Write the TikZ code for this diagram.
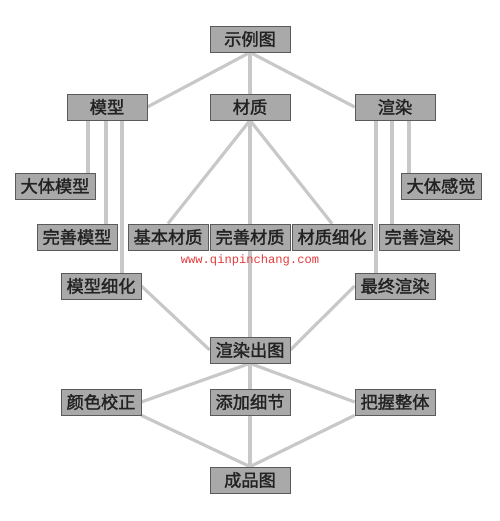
\documentclass[tikz,border=0pt]{standalone}
\usepackage{fontspec}
\usepackage{xcolor}
\usepackage{tikz}
\usetikzlibrary{shadows,backgrounds}
\newfontfamily\cjk{Noto Sans CJK SC}[BoldFont=*,BoldFeatures={FakeBold=1.6}]
\newfontfamily\webfont{Liberation Mono}
\definecolor{boxfill}{HTML}{A9A9A9}
\definecolor{boxline}{HTML}{5A5A5A}
\definecolor{ink}{HTML}{222222}
\definecolor{link}{HTML}{C8C8C8}
\definecolor{mark}{HTML}{E23B3B}

\begin{document}
\begin{tikzpicture}[
  x=0.02cm,y=-0.02cm,
  box/.style={draw=boxline,fill=boxfill,text=ink,minimum width=1.6cm,minimum height=0.52cm,
    inner sep=0pt,font=\cjk\bfseries\fontsize{9.8}{11}\selectfont,
    drop shadow={shadow xshift=0.6pt,shadow yshift=-0.6pt,opacity=0.45}},
  line/.style={draw=link,line width=1.8pt}
]
\useasboundingbox (0,0) rectangle (500,521);
\node[box] (ex) at (250,39) {示例图};
\node[box] (model) at (107,107) {模型};
\node[box] (mat) at (250,107) {材质};
\node[box] (render) at (395,107) {渲染};
\node[box] (roughmodel) at (55,186) {大体模型};
\node[box] (roughfeel) at (441,186) {大体感觉};
\node[box] (fullmodel) at (77,237) {完善模型};
\node[box] (basemat) at (168,237) {基本材质};
\node[box] (fullmat) at (250,237) {完善材质};
\node[box] (finemat) at (332,237) {材质细化};
\node[box] (fullrender) at (419,237) {完善渲染};
\node[text=mark,font=\webfont\fontsize{6.9}{8}\selectfont] (site) at (250,260) {www.qinpinchang.com};
\node[box] (finemodel) at (101,286) {模型细化};
\node[box] (lastrender) at (395,286) {最终渲染};
\node[box] (output) at (250,350) {渲染出图};
\node[box] (colorfix) at (101,402) {颜色校正};
\node[box] (detail) at (250,402) {添加细节};
\node[box] (whole) at (395,402) {把握整体};
\node[box] (final) at (250,480) {成品图};
\begin{scope}[on background layer]
\draw[line] (ex.south) -- (model.east);
\draw[line] (ex) -- (mat);
\draw[line] (ex.south) -- (render.west);
\draw[line] (model.south -| 88,0) -- (roughmodel.north -| 88,0);
\draw[line] (model.south -| 106,0) -- (fullmodel.north -| 106,0);
\draw[line] (model.south -| 122,0) -- (finemodel.north -| 122,0);
\draw[line] (render.south -| 376,0) -- (lastrender.north -| 376,0);
\draw[line] (render.south -| 392,0) -- (fullrender.north -| 392,0);
\draw[line] (render.south -| 409,0) -- (roughfeel.north -| 409,0);
\draw[line] (mat.south) -- (basemat.north);
\draw[line] (mat) -- (fullmat);
\draw[line] (mat.south) -- (finemat.north);
\draw[line] (fullmat) -- (output);
\draw[line] (finemodel.east) -- (output.west);
\draw[line] (lastrender.west) -- (output.east);
\draw[line] (output.south) -- (colorfix.east);
\draw[line] (output) -- (detail);
\draw[line] (output.south) -- (whole.west);
\draw[line] (colorfix.south east) -- (final.north);
\draw[line] (detail) -- (final);
\draw[line] (whole.south west) -- (final.north);
\end{scope}
\end{tikzpicture}
\end{document}
